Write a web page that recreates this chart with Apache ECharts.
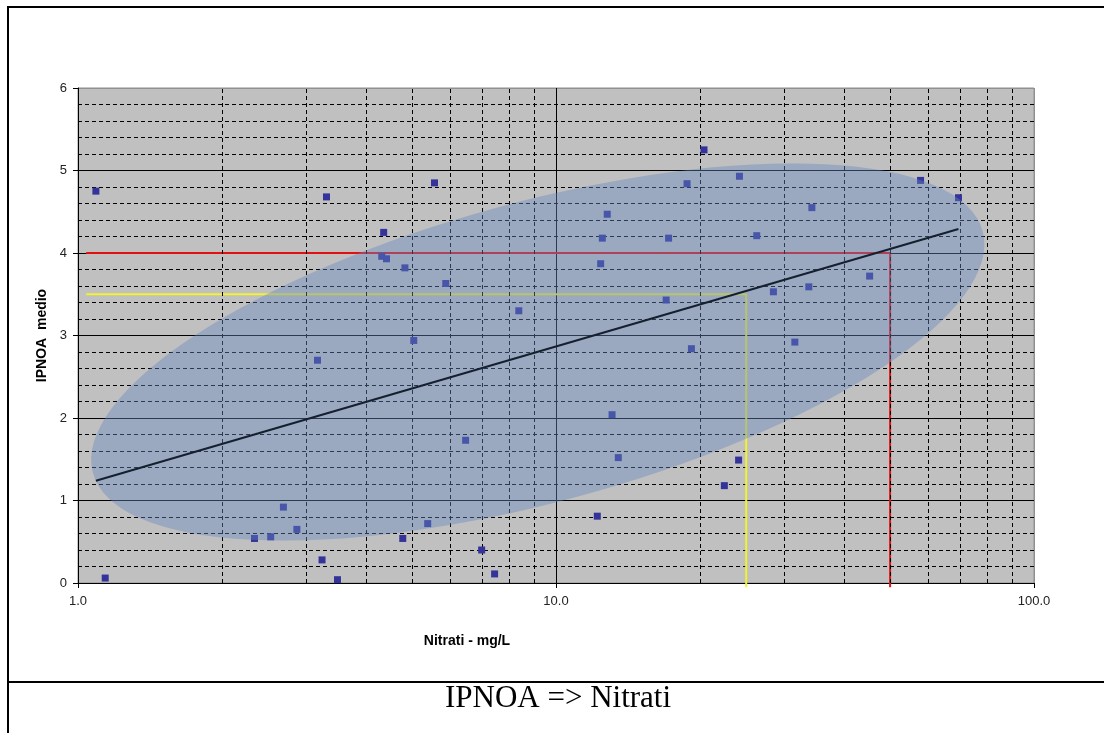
<!DOCTYPE html>
<html>
<head>
<meta charset="utf-8">
<script src="https://cdn.jsdelivr.net/npm/echarts@6/dist/echarts.min.js"></script>
<style>
html,body{margin:0;padding:0;background:#fff;}
#c{width:1104px;height:733px;}
</style>
</head>
<body>
<div id="c"></div>
<script>
// ---- data ----
const nitrati = [1.09,1.14,2.34,2.53,2.69,2.87,3.17,3.24,3.31,3.49,4.36,4.32,4.42,4.83,4.78,5.04,5.39,5.57,5.88,6.47,6.99,7.44,8.36,12.2,12.4,12.5,12.8,13.1,13.5,17.0,17.2,18.8,19.2,20.4,22.5,24.2,24.1,26.3,28.5,31.6,33.8,34.3,45.3,57.9,69.5];
const ipnoa   = [4.75,0.06,0.54,0.56,0.92,0.65,2.70,0.28,4.68,0.04,4.25,3.96,3.93,3.82,0.54,2.94,0.72,4.85,3.63,1.73,0.40,0.11,3.30,0.81,3.87,4.18,4.47,2.04,1.52,3.43,4.18,4.84,2.84,5.25,1.18,4.93,1.49,4.21,3.53,2.92,3.59,4.55,3.72,4.88,4.67];
const trendX = [1.09, 69.5];
const trendY = [1.24, 4.29];
const redX = [1.04, 50, 50];
const redY = [4, 4, -0.05];
const yellowX = [1.04, 25, 25];
const yellowY = [3.5, 3.5, -0.05];
const xMinor = [2,3,4,5,6,7,8,9,20,30,40,50,60,70,80,90];
const ellipseCenter = [9.16, 2.80];
const yAxisName = 'IPNOA  medio';
const xAxisName = 'Nitrati - mg/L';
const caption = 'IPNOA => Nitrati';

const zip = (a, b) => a.map((v, i) => [v, b[i]]);

const chart = echarts.init(document.getElementById('c'));
chart.setOption({
  animation: false,
  backgroundColor: '#ffffff',
  grid: {left: 78, right: 70, top: 88, bottom: 150, show: true,
         backgroundColor: '#c0c0c0', borderColor: '#909090', borderWidth: 1},
  xAxis: {
    type: 'log', logBase: 10, min: 1, max: 100,
    axisLine: {show: true, onZero: false, lineStyle: {color: '#000', width: 1}},
    axisTick: {show: true, length: 5, lineStyle: {color: '#000'}},
    axisLabel: {formatter: v => v.toFixed(1), color: '#222', fontFamily: 'Liberation Sans', fontSize: 13, margin: 12},
    splitLine: {show: true, lineStyle: {color: ['#000', '#000', '#909090'], width: 1}}
  },
  yAxis: {
    type: 'value', min: 0, max: 6, interval: 1,
    name: yAxisName, nameLocation: 'middle', nameGap: 23,
    nameTextStyle: {fontFamily: 'Liberation Sans', fontWeight: 'bold', fontSize: 14, color: '#000'},
    axisLine: {show: true, lineStyle: {color: '#000', width: 1}},
    axisTick: {show: true, length: 5, lineStyle: {color: '#000'}},
    axisLabel: {color: '#222', fontFamily: 'Liberation Sans', fontSize: 13, margin: 11},
    splitLine: {show: true, lineStyle: {color: ['#000','#000','#000','#000','#000','#000','#909090'], width: 1}},
    minorTick: {show: false, splitNumber: 5},
    minorSplitLine: {show: true, lineStyle: {color: '#000', width: 1, type: [4, 3]}}
  },
  series: [
    {
      type: 'line', data: [], silent: true, z: 1,
      markLine: {
        silent: true, symbol: ['none', 'none'], animation: false,
        label: {show: false},
        lineStyle: {color: '#000', width: 1, type: [4, 3]},
        emphasis: {disabled: true},
        data: xMinor.map(v => ({xAxis: v}))
      }
    },
    {
      type: 'line', data: zip(redX, redY), symbol: 'none', clip: false, silent: true, z: 3,
      lineStyle: {color: '#e41010', width: 2}
    },
    {
      type: 'line', data: zip(yellowX, yellowY), symbol: 'none', clip: false, silent: true, z: 3,
      lineStyle: {color: '#f2f230', width: 2}
    },
    {
      type: 'scatter', data: zip(nitrati, ipnoa), symbol: 'rect', symbolSize: 7, z: 5,
      itemStyle: {color: '#333399', opacity: 1}
    },
    {
      type: 'line', data: zip(trendX, trendY), symbol: 'none', silent: true, zlevel: 1,
      lineStyle: {color: '#15202e', width: 2}
    }
  ]
});

const c = chart.convertToPixel({gridIndex: 0}, ellipseCenter);
chart.setOption({
  graphic: [
    {type: 'circle', x: c[0], y: c[1], shape: {cx: 0, cy: 0, r: 150},
     scaleX: 461 / 150, scaleY: 1, rotation: 15.2 * Math.PI / 180,
     style: {fill: 'rgba(102,137,192,0.42)'}, z: 50, silent: true},
    {type: 'polyline', shape: {points: [[1104, 7], [8, 7], [8, 740]]},
     style: {stroke: '#000', lineWidth: 2, fill: null}, z: 60, silent: true},
    {type: 'line', shape: {x1: 8, y1: 682, x2: 1104, y2: 682},
     style: {stroke: '#000', lineWidth: 2}, z: 60, silent: true},
    {type: 'text', x: 467, y: 641,
     style: {text: xAxisName, font: 'bold 14px "Liberation Sans"', fill: '#000', textAlign: 'center', textVerticalAlign: 'middle'},
     z: 60, silent: true},
    {type: 'text', x: 558, y: 699,
     style: {text: caption, font: '31px "Liberation Serif"', fill: '#000', textAlign: 'center', textVerticalAlign: 'middle'},
     z: 60, silent: true}
  ]
});
</script>
</body>
</html>
